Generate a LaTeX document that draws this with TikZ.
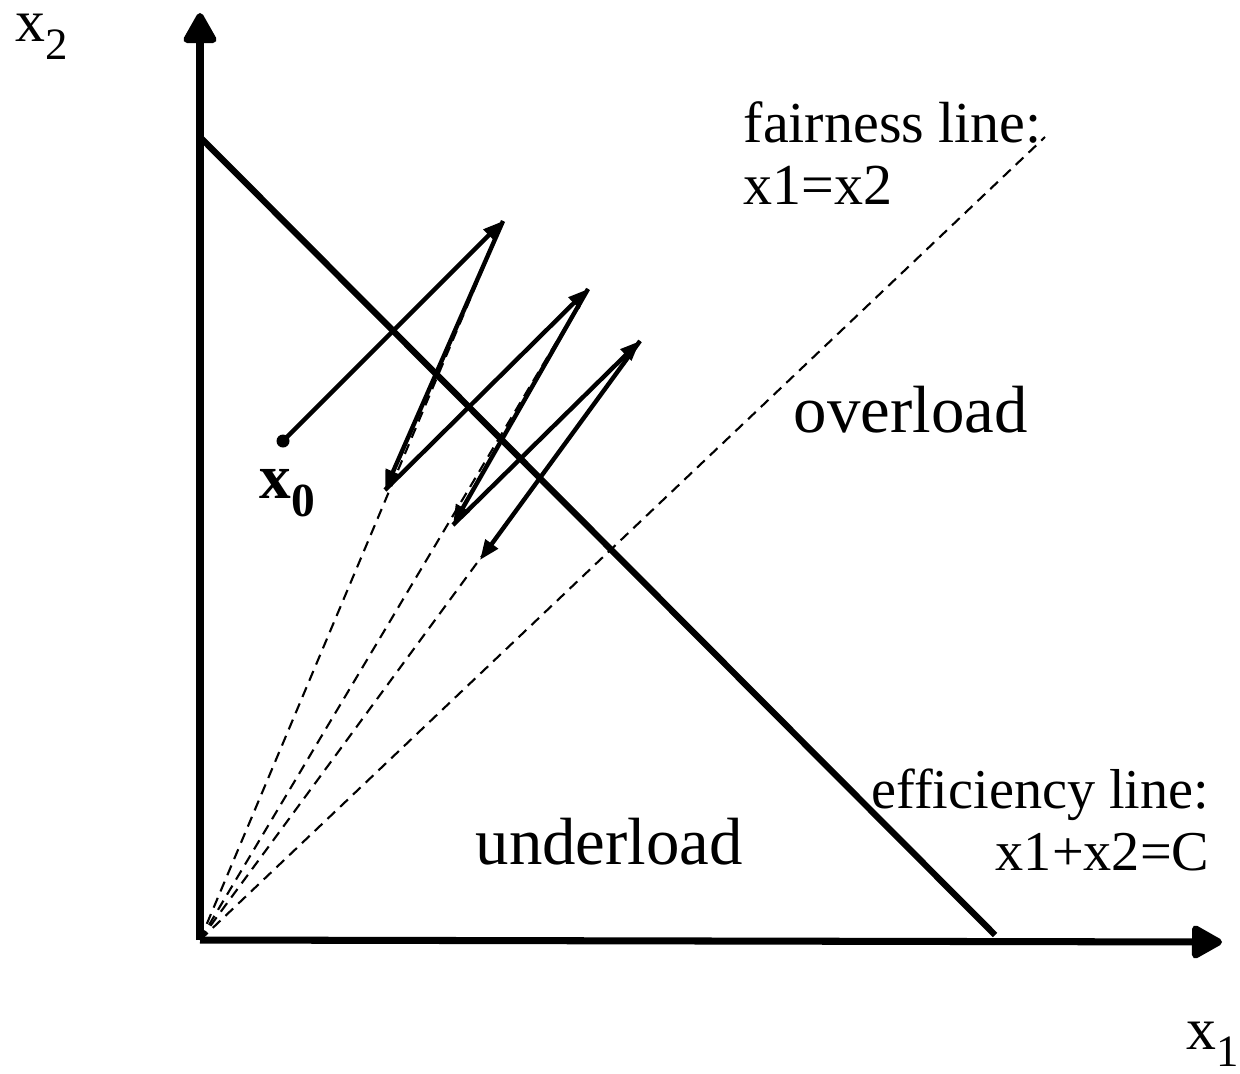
\documentclass[tikz,border=0pt]{standalone}
\usepackage{fontspec}
\setmainfont{Liberation Serif}
\usetikzlibrary{arrows.meta}
\tikzset{
  axis/.style={line width=2pt, -{Triangle[length=0.34cm, width=0.36cm, round]}},
  traj/.style={line width=1.25pt, -{Triangle[length=0.2cm, width=0.15cm]}},
  guide/.style={line width=0.6pt, dash pattern=on 3pt off 2pt},
  lbl/.style={inner sep=0pt, font=\fontsize{16.5}{20}\selectfont},
  big/.style={inner sep=0pt, font=\fontsize{19}{23}\selectfont},
  axlbl/.style={inner sep=0pt, font=\fontsize{17}{20}\selectfont},
}
\newcommand{\subidx}[1]{\raisebox{-0.3em}{\scalebox{0.75}{#1}}}
\begin{document}
\begin{tikzpicture}[x=0.01cm, y=-0.01cm]
	\useasboundingbox (0,0) rectangle (1240,1073);
	% axes
	\coordinate (O) at (200,940);
	\coordinate (ytip) at (200,13);
	\coordinate (xtip) at (1222,942);
	\draw[axis] (O) -- (ytip);
	\draw[axis] (O) -- (xtip);
	
	% efficiency and fairness lines
	\coordinate (eA) at (200,137);
	\coordinate (eB) at (995,935);
	\coordinate (fend) at (1045,137);
	\draw[line width=1.8pt] (eA) -- (eB);
	\draw[guide] (O) -- (fend);
	
	% trajectory
	\node[circle, fill, inner sep=0pt, minimum size=0.13cm] (x0) at (283,441) {};
	\coordinate (p1) at (503,221);
	\coordinate (d1) at (385,490);
	\coordinate (p2) at (588,289);
	\coordinate (d2) at (453,525);
	\coordinate (p3) at (640,341);
	\coordinate (d3) at (480,560);
	\draw[guide] (O) -- (p1);
	\draw[guide] (O) -- (p2);
	\draw[guide] (O) -- (p3);
	\draw[traj] (x0.center) -- (p1);
	\draw[traj] (p1) -- (d1);
	\draw[traj] (d1) -- (p2);
	\draw[traj] (p2) -- (d2);
	\draw[traj] (d2) -- (p3);
	\draw[traj] (p3) -- (d3);
	
	% labels
	\node[axlbl, anchor=base west] (lx2) at (15,42) {x\subidx{2}};
	\node[axlbl, anchor=base west] (lx1) at (1186,1049) {x\subidx{1}};
	\node[axlbl, anchor=base west, font=\fontsize{18}{22}\selectfont\bfseries] (lx0) at (259,498) {x\subidx{0}};
	\node[lbl, anchor=base west] (fair) at (743,143) {fairness line:};
	\node[lbl, anchor=base west] (faireq) at (743,205) {x1=x2};
	\node[big, anchor=base west] (over) at (793,432) {overload};
	\node[big, anchor=base west] (under) at (475,864) {underload};
	\node[lbl, anchor=base east, font=\fontsize{16}{20}\selectfont] (eff) at (1210,808) {efficiency line:};
	\node[lbl, anchor=base east, font=\fontsize{16}{20}\selectfont] (effeq) at (1210,870) {x1+x2=C};
\end{tikzpicture}
\end{document}
